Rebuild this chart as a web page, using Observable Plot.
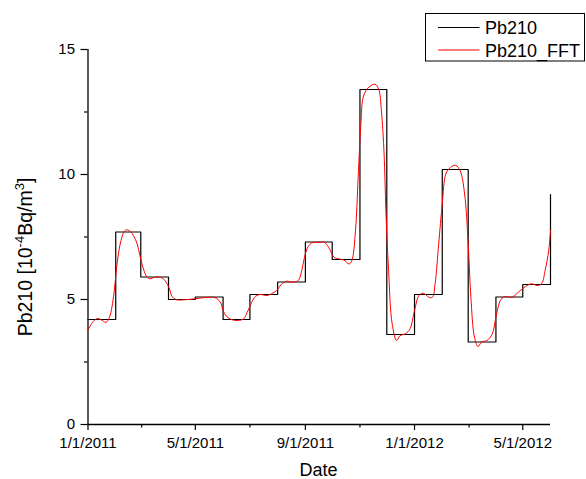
<!DOCTYPE html>
<html>
<head>
<meta charset="utf-8">
<script src="https://cdn.jsdelivr.net/npm/d3@7"></script>
<script src="https://cdn.jsdelivr.net/npm/@observablehq/plot@0.6"></script>
<style>
  html, body { margin: 0; padding: 0; background: white; }
  svg { display: block; }
</style>
</head>
<body>
<div id="chart"></div>
<script>
// Monthly Pb210 values (step series), month start dates
const stepDates = ["2011-01-01","2011-02-01","2011-03-01","2011-04-01","2011-05-01","2011-06-01",
  "2011-07-01","2011-08-01","2011-09-01","2011-10-01","2011-11-01","2011-12-01",
  "2012-01-01","2012-02-01","2012-03-01","2012-04-01","2012-05-01","2012-06-01"];
const stepValues = [4.2, 7.7, 5.9, 5.0, 5.1, 4.2, 5.2, 5.7, 7.3, 6.6, 13.4, 3.6, 5.2, 10.2, 3.3, 5.1, 5.6, 9.2];

// FFT-smoothed series: days after 2011-01-01 and values
const fftDays = [0,6,11,16,20,24,29,32,36,40,43,47,51,55,58,62,66,69,75,81,86,91,94,99,108,120,131,142,148,
  151,155,161,168,174,178,183,187,192,200,205,211,216,222,229,235,239,242,246,250,255,260,264,269,275,281,
  286,292,295,299,302,305,308,314,321,325,328,331,333,336,340,345,349,355,360,365,370,375,381,385,388,392,
  396,400,405,411,416,421,425,428,432,436,440,446,452,456,461,466,474,481,489,496,502,507,511,515,517];
const fftValues = [3.77,4.13,4.24,4.16,4.08,4.29,5.23,6.29,7.22,7.69,7.79,7.73,7.55,7.22,6.76,6.22,5.89,5.83,5.89,
  5.89,5.76,5.43,5.12,4.99,4.99,5.03,5.08,5.07,4.89,4.56,4.32,4.19,4.16,4.23,4.49,4.89,5.12,5.2,5.16,5.23,5.36,
  5.6,5.73,5.69,5.76,6.16,6.69,7.11,7.26,7.29,7.29,7.29,7.09,6.69,6.62,6.58,6.42,6.56,7.75,9.88,12.01,13.14,13.5,
  13.61,13.41,12.54,10.81,8.55,6.16,4.03,3.36,3.56,3.63,3.83,4.56,5.16,5.25,5.09,5.09,5.63,7.22,8.82,10.02,10.28,
  10.37,10.15,9.22,7.22,5.09,3.5,3.12,3.3,3.36,3.63,4.29,4.96,5.12,5.09,5.29,5.52,5.63,5.56,5.63,6.16,6.96,7.75];

// Axis ticks
const xDomain = ["2011-01-01", "2012-06-01"];
const xMajorTicks = ["2011-01-01","2011-05-01","2011-09-01","2012-01-01","2012-05-01"];
const xMinorTicks = ["2011-03-02","2011-07-01","2011-11-01","2012-03-02"];
const yMajorTicks = [0, 5, 10, 15];
const yMinorTicks = [2.5, 7.5, 12.5];
const seriesNames = ["Pb210", "Pb210_FFT"];
const seriesColors = ["#000000", "#ff0000"];

const parse = s => new Date(s + "T00:00:00Z");
const start = parse(xDomain[0]);
const stepData = stepDates.map((d, i) => ({date: parse(d), value: stepValues[i]}));
const fftData = fftDays.map((d, i) => ({date: d3.utcDay.offset(start, d), value: fftValues[i]}));
const fmt = d => `${d.getUTCMonth() + 1}/${d.getUTCDate()}/${d.getUTCFullYear()}`;

const W = 586, H = 479;
const svg = Plot.plot({
  width: W, height: H,
  marginLeft: 87.5, marginRight: 36, marginTop: 49, marginBottom: 55,
  style: {fontFamily: "'Liberation Sans', Arial, sans-serif", fontSize: "15px", color: "black", background: "white"},
  x: {type: "utc", domain: xDomain.map(parse)},
  y: {domain: [0, 15]},
  marks: [
    Plot.axisX({ticks: xMajorTicks.map(parse), tickSize: 6, tickPadding: 7, tickFormat: fmt, label: null, fontSize: 15, strokeWidth: 1.2}),
    Plot.axisX({ticks: xMinorTicks.map(parse), tickSize: 3.5, tickFormat: () => "", label: null, strokeWidth: 1.2}),
    Plot.axisY({ticks: yMajorTicks, tickSize: 7, tickPadding: 6, label: null, fontSize: 15, strokeWidth: 1.2}),
    Plot.axisY({ticks: yMinorTicks, tickSize: 3.5, tickFormat: () => "", label: null, strokeWidth: 1.2}),
    Plot.ruleY([0], {stroke: "black", strokeWidth: 1.3}),
    Plot.ruleX([start], {stroke: "black", strokeWidth: 1.3}),
    Plot.line(stepData, {x: "date", y: "value", curve: "step-after", stroke: seriesColors[0], strokeWidth: 1.2}),
    Plot.line(fftData, {x: "date", y: "value", curve: "catmull-rom", stroke: seriesColors[1], strokeWidth: 1})
  ]
});
document.getElementById("chart").appendChild(svg);

const s = d3.select(svg);
const font = "'Liberation Sans', Arial, sans-serif";

// X axis title
s.append("text").attr("x", 318.5).attr("y", 476).attr("text-anchor", "middle")
  .attr("font-family", font).attr("font-size", 18).attr("fill", "black").text("Date");

// Y axis title with superscripts
const yt = s.append("text").attr("transform", "translate(32,257) rotate(-90)")
  .attr("text-anchor", "middle").attr("font-family", font).attr("font-size", 19.5).attr("fill", "black");
yt.append("tspan").text("Pb210 [10");
yt.append("tspan").attr("font-size", 13).attr("dy", -8).text("-4");
yt.append("tspan").attr("dy", 8).text("Bq/m");
yt.append("tspan").attr("font-size", 13).attr("dy", -8).text("3");
yt.append("tspan").attr("dy", 8).text("]");

// Legend
const lg = s.append("g");
lg.append("rect").attr("x", 425.5).attr("y", 13.5).attr("width", 159).attr("height", 47.5)
  .attr("fill", "white").attr("stroke", "black").attr("stroke-width", 1);
const rowsY = [27.5, 50];
seriesNames.forEach((name, i) => {
  lg.append("line").attr("x1", 438).attr("x2", 479.5).attr("y1", rowsY[i]).attr("y2", rowsY[i])
    .attr("stroke", seriesColors[i]).attr("stroke-width", 1);
  lg.append("text").attr("x", 485).attr("y", rowsY[i] + 6.5).attr("text-anchor", "start")
    .attr("font-family", font).attr("font-size", 18).attr("fill", "black").text(name);
});
</script>
</body>
</html>
